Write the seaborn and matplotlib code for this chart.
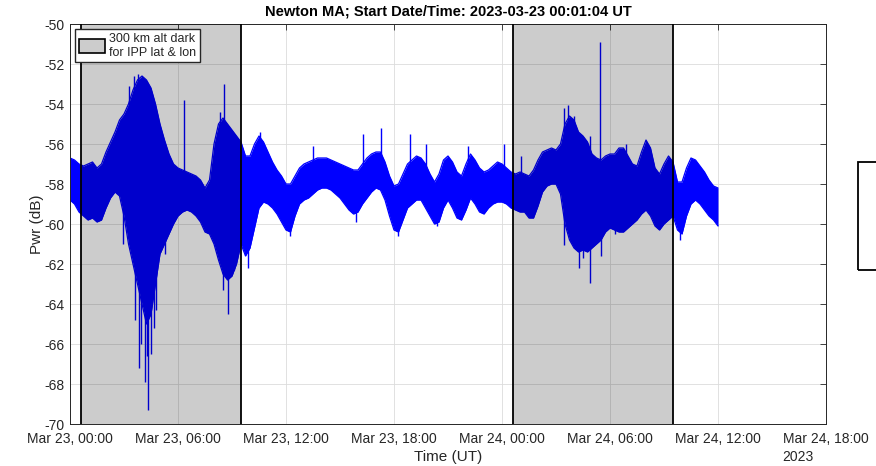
import numpy as np
import pandas as pd
import matplotlib
matplotlib.use('Agg')
import matplotlib.pyplot as plt
import matplotlib.dates as mdates
from matplotlib.patches import Patch, Rectangle
import seaborn as sns

# Received power envelope, every 15 min from 2023-03-23 00:00 UT
start = pd.Timestamp('2023-03-23 00:00:00')
hours = np.arange(0, 36.01, 0.25)

pwr_hi = [-56.7, -56.8, -57.0, -57.1, -57.0, -56.9, -57.2, -57.0,
          -56.4, -55.9, -55.4, -54.8, -54.5, -54.0, -53.3, -52.8,
          -52.6, -52.8, -53.2, -54.0, -55.0, -55.8, -56.5, -57.0,
          -57.2, -57.3, -57.4, -57.5, -57.6, -57.8, -58.2, -57.8,
          -56.0, -55.0, -54.7, -55.0, -55.3, -55.6, -55.9, -56.6,
          -56.6, -56.0, -55.6, -55.9, -56.4, -56.9, -57.3, -57.6,
          -58.0, -58.0, -57.6, -57.2, -57.0, -56.9, -56.8, -56.7,
          -56.7, -56.7, -56.8, -56.9, -57.0, -57.1, -57.2, -57.3,
          -57.3, -57.0, -56.7, -56.5, -56.4, -56.4, -56.9, -57.6,
          -58.1, -58.0, -57.5, -57.0, -56.8, -56.6, -56.7, -57.0,
          -57.5, -57.9, -57.5, -56.8, -56.6, -56.9, -57.4, -57.6,
          -57.0, -56.5, -56.8, -57.2, -57.4, -57.3, -57.1, -56.9,
          -57.0, -57.2, -57.4, -57.5, -57.4, -57.5, -57.6, -57.3,
          -56.8, -56.4, -56.3, -56.2, -56.3, -56.0, -55.0, -54.6,
          -54.8, -55.4, -55.6, -55.9, -56.5, -56.7, -56.8, -56.6,
          -56.5, -56.5, -56.2, -56.2, -56.6, -57.0, -57.1, -56.4,
          -55.8, -56.2, -57.2, -57.5, -57.0, -56.6, -56.9, -57.9,
          -57.9, -57.2, -56.7, -56.8, -57.1, -57.4, -57.8, -58.1,
          -58.2]

pwr_lo = [-58.8, -59.0, -59.4, -59.6, -59.8, -59.7, -59.9, -59.8,
          -59.2, -58.7, -58.4, -58.6, -59.6, -61.0, -62.0, -63.0,
          -64.0, -65.0, -64.5, -63.0, -61.5, -61.0, -60.5, -60.0,
          -59.6, -59.4, -59.3, -59.4, -59.6, -59.9, -60.4, -60.5,
          -61.0, -61.8, -62.5, -62.8, -62.6, -62.0, -61.0, -61.6,
          -61.2, -60.2, -59.2, -58.9, -59.0, -59.2, -59.5, -59.9,
          -60.3, -60.4, -59.6, -59.0, -58.8, -58.7, -58.5, -58.3,
          -58.2, -58.2, -58.3, -58.5, -58.7, -59.0, -59.3, -59.5,
          -59.4, -59.0, -58.7, -58.4, -58.2, -58.3, -58.8, -59.6,
          -60.3, -60.4, -59.8, -59.2, -59.0, -58.8, -58.8, -59.2,
          -59.6, -60.0, -59.9, -59.2, -58.8, -59.2, -59.7, -59.8,
          -59.3, -58.7, -59.0, -59.4, -59.5, -59.2, -59.0, -58.9,
          -58.9, -59.0, -59.2, -59.3, -59.4, -59.4, -59.7, -59.7,
          -59.1, -58.4, -58.1, -58.0, -58.0, -58.5, -60.0, -60.8,
          -61.2, -61.4, -61.3, -61.4, -61.2, -61.0, -60.8, -60.4,
          -60.2, -60.3, -60.4, -60.4, -60.2, -60.0, -59.8, -59.5,
          -59.3, -59.6, -60.1, -60.3, -60.0, -59.8, -59.6, -60.3,
          -60.5, -59.6, -59.0, -58.8, -59.0, -59.3, -59.6, -59.8,
          -60.1]

# isolated spikes sticking out of the band (hour, dB)
spike_hours = [3.3, 3.55, 3.8, 4.13, 4.9, 6.33, 8.35, 8.54, 10.55, 13.5,
               16.3, 17.25, 18.9, 19.8, 22.1, 24.1, 25.05, 27.45, 27.65,
               28.0, 28.9, 29.44, 30.9,
               2.94, 3.6, 3.83, 3.95, 4.15, 4.25, 4.33, 4.52, 4.65, 4.8,
               5.26, 8.5, 8.76, 9.1, 9.9, 12.2, 15.9, 18.2, 20.4, 27.45,
               28.3, 28.5, 28.9, 29.5, 30.3, 33.9]
spike_db = [-53.1, -52.6, -52.5, -53.2, -55.3, -53.8, -54.4, -53.0, -55.4, -56.1,
            -55.5, -55.2, -55.5, -56.0, -56.1, -56.0, -56.6, -54.2, -54.05,
            -54.6, -55.6, -50.9, -56.0,
            -61.0, -64.8, -67.2, -66.0, -67.9, -66.6, -69.3, -66.5, -65.2, -64.3,
            -61.5, -63.3, -64.5, -62.3, -62.2, -60.6, -59.9, -60.6, -60.1, -61.05,
            -62.2, -61.7, -62.97, -61.6, -60.5, -60.8]

# "300 km alt dark for IPP lat & lon" intervals
dark_start = ['2023-03-23 00:37', '2023-03-24 00:35']
dark_end = ['2023-03-23 09:31', '2023-03-24 09:29']

df = pd.DataFrame({'time': start + pd.to_timedelta(hours, unit='h'),
                   'hi': pwr_hi, 'lo': pwr_lo})
spikes = pd.DataFrame({'time': start + pd.to_timedelta(spike_hours, unit='h'),
                       'db': spike_db})
mid = (df['hi'] + df['lo']) / 2
spikes['base'] = np.interp(spike_hours, hours, mid)

sns.set_style('white')
plt.rcParams['font.family'] = ['Liberation Sans', 'DejaVu Sans']
plt.rcParams['axes.unicode_minus'] = False
txt = '#262626'

fig = plt.figure(figsize=(8.76, 4.66), dpi=100)
ax = fig.add_axes([70 / 876, 42 / 466, 756 / 876, 400 / 466])

ax.grid(True, color='#dcdcdc', lw=0.6, zorder=0)
ax.set_axisbelow(True)

blue = '#0000ff'
ax.fill_between(df['time'], df['lo'], df['hi'], color=blue, lw=0, zorder=2)
sns.lineplot(data=df, x='time', y='hi', color=blue, lw=0.9, ax=ax, zorder=2)
sns.lineplot(data=df, x='time', y='lo', color=blue, lw=0.9, ax=ax, zorder=2)
ax.vlines(spikes['time'], spikes['base'], spikes['db'], color=blue, lw=1.0, zorder=2)

for s, e in zip(dark_start, dark_end):
    s, e = pd.Timestamp(s), pd.Timestamp(e)
    ax.axvspan(s, e, color='black', alpha=0.2, lw=0, zorder=3)
    ax.axvline(s, color='black', lw=1.3, zorder=4)
    ax.axvline(e, color='black', lw=1.3, zorder=4)

ax.set_xlim(start, start + pd.Timedelta(hours=42))
ax.set_ylim(-70, -50)
ax.set_yticks(np.arange(-70, -49, 2))
ax.xaxis.set_major_locator(mdates.HourLocator(byhour=[0, 6, 12, 18]))
ax.xaxis.set_major_formatter(mdates.DateFormatter('%b %d, %H:%M'))
ax.tick_params(direction='in', length=4, width=0.6, top=True, right=True,
               labelsize=10, colors=txt)
ax.tick_params(axis='x', pad=6)
ax.tick_params(axis='y', pad=4)
for sp in ax.spines.values():
    sp.set_color(txt)
    sp.set_linewidth(0.7)

ax.set_xlabel('Time (UT)', fontsize=11, color=txt, labelpad=3)
ax.set_ylabel('Pwr (dB)', fontsize=11, color=txt, labelpad=0)
ax.set_title('Newton MA; Start Date/Time: 2023-03-23 00:01:04 UT',
             fontsize=10.5, fontweight='bold', color='black', pad=6)
fig.text(782 / 876, 1 - 457 / 466, '2023', ha='left', va='center',
         fontsize=10, color=txt)

handle = Patch(facecolor='#cccccc', edgecolor='black', lw=1.2,
               label='300 km alt dark\nfor IPP lat & lon')
ax.legend(handles=[handle], loc='upper left', fontsize=9, handlelength=2.1,
          handleheight=1.3, handletextpad=0.3, borderaxespad=0.4,
          borderpad=0.3, fancybox=False, framealpha=1, edgecolor=txt,
          labelspacing=0.2)

# second (empty) legend box sitting outside the axes on the right
fig.add_artist(Rectangle((858 / 876, 1 - 270 / 466), 30 / 876, 108 / 466,
                         transform=fig.transFigure, fill=False,
                         edgecolor='black', lw=1.3))

fig.savefig('out.png', dpi=100)
